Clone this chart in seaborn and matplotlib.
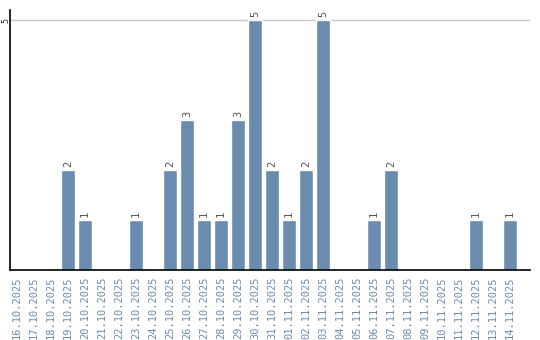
import matplotlib
matplotlib.use("Agg")
import matplotlib.pyplot as plt
import seaborn as sns
import pandas as pd

dates = ["16.10.2025", "17.10.2025", "18.10.2025", "19.10.2025", "20.10.2025",
         "21.10.2025", "22.10.2025", "23.10.2025", "24.10.2025", "25.10.2025",
         "26.10.2025", "27.10.2025", "28.10.2025", "29.10.2025", "30.10.2025",
         "31.10.2025", "01.11.2025", "02.11.2025", "03.11.2025", "04.11.2025",
         "05.11.2025", "06.11.2025", "07.11.2025", "08.11.2025", "09.11.2025",
         "10.11.2025", "11.11.2025", "12.11.2025", "13.11.2025", "14.11.2025"]
counts = [0, 0, 0, 2, 1, 0, 0, 1, 0, 2, 3, 1, 1, 3, 5, 2, 1, 2, 5, 0,
          0, 1, 2, 0, 0, 0, 0, 1, 0, 1]

df = pd.DataFrame({"date": dates, "count": counts})

sns.set_style("white")
fig = plt.figure(figsize=(5.4, 3.4), dpi=100)
ax = fig.add_axes([10/540, 70/340, 520/540, 260/340])

sns.barplot(data=df, x="date", y="count", color="#6a8caf", saturation=1,
            width=0.82, ax=ax)

ax.set_xlim(-0.41, 30.18)
ax.set_ylim(0, 5.2)
ax.set_yticks([5])
ax.set_yticklabels(["5"], rotation=90, va="center", ha="center", fontsize=6,
                   family="DejaVu Sans Mono")
ax.tick_params(axis="y", length=0, pad=3)
ax.tick_params(axis="x", length=0, pad=5)
for lbl in ax.get_xticklabels():
    lbl.set_rotation(90)
    lbl.set_fontsize(7.5)
    lbl.set_family("DejaVu Sans Mono")
    lbl.set_color("#6a8caf")
    lbl.set_va("top")
ax.set_xlabel("")
ax.set_ylabel("")
ax.axhline(5, color="#c8c8c8", lw=1, zorder=0)

for s in ["top", "right"]:
    ax.spines[s].set_visible(False)
for s in ["left", "bottom"]:
    ax.spines[s].set_color("black")
    ax.spines[s].set_linewidth(1.2)

cont = ax.containers[0]
labels = [str(v) if v > 0 else "" for v in counts]
ax.bar_label(cont, labels=labels, rotation=90, padding=2, fontsize=7.5,
             color="#555555", family="DejaVu Sans Mono")

fig.savefig("out.png", dpi=100)
